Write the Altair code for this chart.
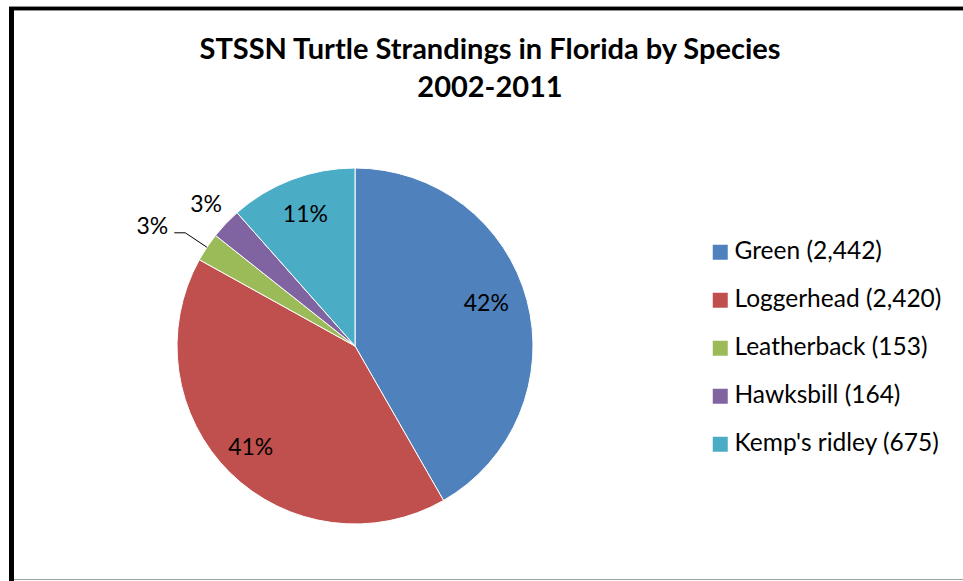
import altair as alt
import pandas as pd

# ---- data ----
species = ["Green", "Loggerhead", "Leatherback", "Hawksbill", "Kemp's ridley"]
counts = [2442, 2420, 153, 164, 675]
pct_labels = ["42%", "41%", "3%", "3%", "11%"]
colors = ["#4F81BD", "#C0504D", "#9BBB59", "#8064A2", "#4BACC6"]
title_lines = ["STSSN Turtle Strandings in Florida by Species", "2002-2011"]

legend_labels = [f"{s} ({c:,})" for s, c in zip(species, counts)]
df = pd.DataFrame({
    "species": species,
    "count": counts,
    "pct": pct_labels,
    "legend": legend_labels,
    "idx": list(range(len(species))),
})
tdf = pd.DataFrame({"line": title_lines, "row": [0, 1]})

CX, CY, R = 355, 346, 178
FONT = "Lato"
FS = 23
LFS = 24.5

base = alt.Chart(df).encode(
    theta=alt.Theta("count:Q", stack=True),
    order=alt.Order("idx:Q", sort="ascending"),
)

pie = base.mark_arc(outerRadius=R, stroke="white", strokeWidth=1).encode(
    x=alt.value(CX),
    y=alt.value(CY),
    color=alt.Color(
        "legend:N",
        scale=alt.Scale(domain=legend_labels, range=colors),
        legend=alt.Legend(
            title=None,
            orient="none",
            legendX=708,
            legendY=240,
            padding=0,
            symbolType="square",
            symbolSize=225,
            symbolStrokeWidth=0,
            symbolOffset=0,
            labelFont=FONT,
            labelFontSize=LFS,
            labelColor="black",
            labelOffset=2,
            rowPadding=23,
            labelLimit=400,
        ),
    ),
)


def pct_text(cond, radius, dx=0, dy=0):
    return base.mark_text(radius=radius, dx=dx, dy=dy, font=FONT, fontSize=FS, color="black",
                          baseline="middle").encode(
        x=alt.value(CX),
        y=alt.value(CY),
        text=alt.condition(cond, alt.Text("pct:N"), alt.value("")),
    )


green_t = pct_text("datum.species == 'Green'", 140, dx=-4, dy=-6)
logger_t = pct_text("datum.species == 'Loggerhead'", 140, dx=-6, dy=2)
kemp_t = pct_text("datum.idx == 4", 140)
hawk_t = pct_text("datum.species == 'Hawksbill'", 205)
leather_t = pct_text("datum.species == 'Leatherback'", 204, dx=-33, dy=-6)

leader_base = (
    alt.Chart(df)
    .transform_joinaggregate(total="sum(count)")
    .transform_window(cum="sum(count)", sort=[alt.SortField("idx")], frame=[None, 0])
    .transform_calculate(mid="2*PI*(datum.cum - datum.count/2)/datum.total")
    .transform_calculate(
        xa=f"{CX} + {R}*sin(datum.mid)",
        ya=f"{CY} - {R}*cos(datum.mid)",
        xb=f"{CX} + 204*sin(datum.mid)",
        yb=f"{CY} - 204*cos(datum.mid)",
    )
    .transform_calculate(xc="datum.xb - 11")
    .transform_filter(alt.datum.species == "Leatherback")
)
leader1 = leader_base.mark_rule(color="black", strokeWidth=1).encode(
    x=alt.X("xa:Q", scale=None), y=alt.Y("ya:Q", scale=None), x2="xb:Q", y2="yb:Q"
)
leader2 = leader_base.mark_rule(color="black", strokeWidth=1).encode(
    x=alt.X("xb:Q", scale=None), y=alt.Y("yb:Q", scale=None), x2="xc:Q", y2="yb:Q"
)

title = (
    alt.Chart(tdf)
    .transform_calculate(ty="58.5 + 38.2*datum.row")
    .mark_text(font=FONT, fontSize=29, fontWeight="bold", color="black", baseline="alphabetic", align="center")
    .encode(x=alt.value(490), y=alt.Y("ty:Q", scale=None), text="line:N")
)

frame_left = alt.Chart(tdf).mark_rule(color="black", strokeWidth=5).encode(
    x=alt.value(11.5), y=alt.value(7), y2=alt.value(581)
)
frame_top = alt.Chart(tdf).mark_rule(color="black", strokeWidth=3.5).encode(
    x=alt.value(9), x2=alt.value(963), y=alt.value(8.5)
)
frame_bottom = alt.Chart(tdf).mark_rule(color="#a0a0a0", strokeWidth=1.2).encode(
    x=alt.value(14), x2=alt.value(963), y=alt.value(579.5)
)

chart = (
    alt.layer(pie, green_t, logger_t, kemp_t, hawk_t, leather_t, leader1, leader2, title,
              frame_left, frame_top, frame_bottom)
    .properties(width=963, height=581, padding=0, autosize=alt.AutoSizeParams(type="none"),
                background="white")
    .configure_view(stroke=None)
)

chart.save("out.html", embed_options={"renderer": "svg", "actions": False})
